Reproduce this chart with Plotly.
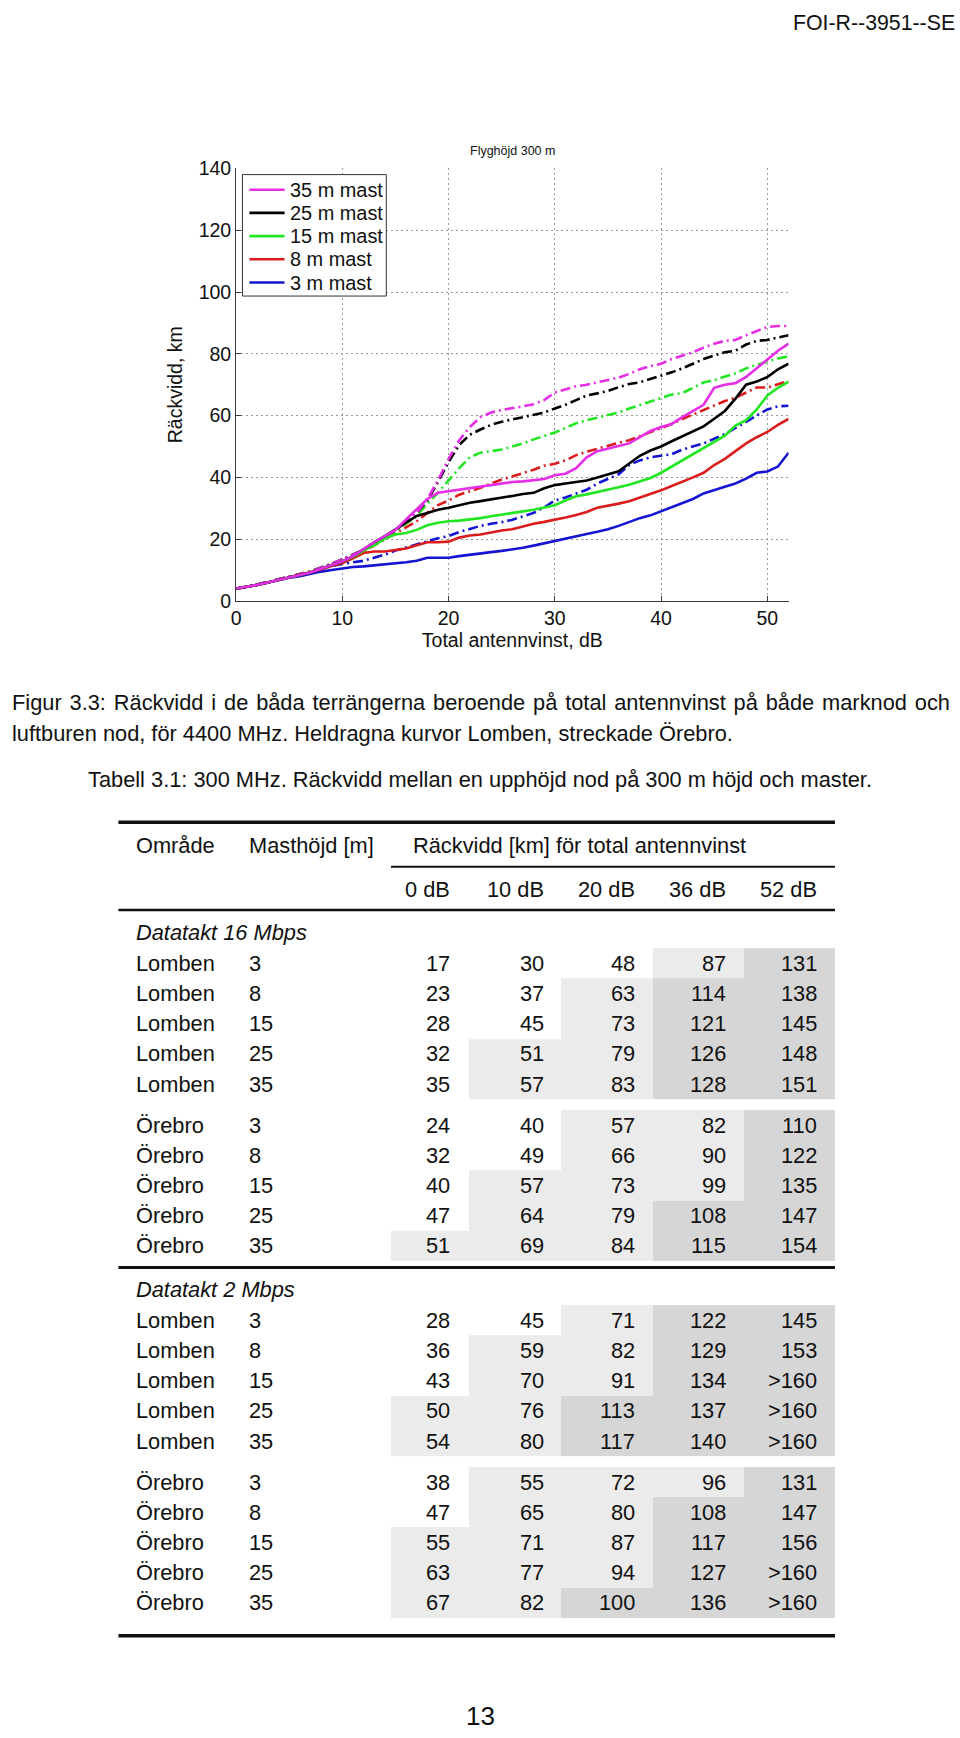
import plotly.graph_objects as go

W, H = 960, 1738
FONT = "Liberation Sans, Arial, Helvetica, sans-serif"

# ---------------- chart data ----------------
gain_db = list(range(0, 53))

lomben_3 = [4, 4.5, 5.2, 6, 6.8, 7.5, 8, 8.8, 9.5, 10,
            10.5, 11, 11.2, 11.5, 12, 12.2, 12.5, 13, 14, 14,
            14, 14.5, 15, 15.5, 15.8, 16.2, 16.6, 17.2, 17.9, 18.7,
            19.5, 20.3, 21, 21.7, 22.4, 23.2, 24.3, 25.6, 26.8, 27.7,
            29, 30.5, 31.6, 33, 34.8, 36, 37, 38, 39.6, 41.5,
            41.9, 43.5, 48]
lomben_8 = [4, 4.5, 5.2, 6, 6.8, 7.6, 8.4, 9.2, 10.2, 11.3,
            12.3, 13.8, 15.5, 16, 16, 16.5, 17, 18, 19, 19,
            19.2, 20.5, 21.2, 21.5, 22.2, 22.8, 23.2, 24.2, 25, 25.6,
            26.2, 27, 27.8, 28.8, 30.2, 30.8, 31.5, 32.3, 33.5, 34.5,
            35.8, 37.2, 38.5, 40, 41.5, 44, 46, 48.5, 51, 53,
            54.7, 57, 58.9]
lomben_15 = [4, 4.5, 5.2, 6, 6.8, 7.6, 8.4, 9.2, 10.4, 11.5,
             12.8, 14.3, 16.3, 18, 20.2, 21.5, 22, 23, 24.5, 25.3,
             25.8, 26, 26.3, 26.8, 27.4, 28, 28.4, 29, 29.5, 30.3,
             31, 32.5, 33.9, 34.5, 35.2, 36, 36.8, 37.6, 38.8, 39.8,
             41.5, 43.5, 45.5, 47.5, 49.5, 51.5, 53.5, 56.8, 58.5, 62,
             66.5, 69, 71]
lomben_25 = [4, 4.5, 5.2, 6, 6.8, 7.6, 8.4, 9.2, 10.4, 11.5,
             12.8, 14.5, 16.8, 19, 21, 23.2, 25.5, 27.5, 28.5, 29.5,
             30.2, 31, 31.8, 32.3, 32.8, 33.5, 34, 34.6, 35, 36.5,
             37.5, 38, 38.5, 39, 40, 41, 42, 44.5, 47, 48.7,
             50, 51.7, 53.3, 55, 56.5, 59, 61.5, 65.5, 70, 71,
             72.5, 75, 76.8]
lomben_35 = [4, 4.5, 5.2, 6, 6.8, 7.6, 8.4, 9.2, 10.4, 11.5,
             12.8, 14.5, 16.8, 19, 21, 23, 26.4, 29.6, 33, 35,
             35.5, 36, 36.5, 37, 37.5, 38, 38.5, 38.7, 39, 39.5,
             40.7, 41.2, 43, 46.5, 48.5, 49.3, 50, 51, 53, 55,
             56.3, 57.3, 59.5, 61.5, 63.5, 69, 70, 70.5, 72.5, 75.3,
             78, 81, 83.3]

orebro_3 = [4, 4.5, 5.3, 6.1, 7, 7.8, 8.6, 9.5, 10.5, 11.3,
            12, 12.5, 13, 14, 15, 16.3, 17.3, 18.4, 19.5, 20.3,
            21, 22.3, 23.3, 24.3, 25, 25.5, 26.3, 27.5, 28.5, 30.3,
            32.5, 33.5, 34.7, 36, 38, 39.5, 41, 44, 45.5, 46.5,
            47, 47.5, 49, 50, 51, 52.5, 54, 56, 58, 60,
            62, 63, 63.2]
orebro_8 = [4, 4.5, 5.3, 6.1, 7, 7.8, 8.6, 9.5, 10.7, 12,
            13.2, 14.5, 16, 18, 20, 22, 24, 25.8, 28.5, 31,
            32.5, 34.4, 35.5, 36.6, 38, 39.3, 40.3, 41.3, 42.5, 43.8,
            44.4, 45.5, 47.2, 48.3, 49.3, 50.4, 51.2, 52, 53.3, 54.8,
            56, 57.3, 58.9, 60.3, 61.8, 63.2, 64.7, 65.8, 67.5, 69.1,
            69.1, 70.1, 71.2]
orebro_15 = [4, 4.5, 5.3, 6.1, 7, 7.8, 8.6, 9.5, 10.8, 12,
             13.5, 15, 16.5, 18.5, 20.5, 22.5, 25, 27.5, 31.5, 35,
             39, 43, 46.5, 48, 48.5, 49, 50, 51, 52.3, 53.3,
             54.5, 56, 57.5, 58.5, 59.3, 60, 61, 62.3, 63.5, 64.5,
             65.7, 66.8, 67.3, 69, 70.7, 71.5, 72.5, 73.7, 75.3, 76.5,
             77.5, 78.5, 79.2]
orebro_25 = [4, 4.5, 5.3, 6.1, 7, 7.8, 8.6, 9.5, 10.8, 12,
             13.5, 15, 16.5, 18.5, 20.5, 23, 25.5, 28.5, 32.5, 38.5,
             45, 50.5, 53.8, 55.5, 57, 58, 58.7, 59.5, 60.3, 61,
             62.3, 63.5, 65, 66.5, 67.2, 68, 69.2, 70.2, 70.8, 71.8,
             72.8, 74, 75.3, 76.8, 78.3, 79.5, 80.5, 81, 83, 84.2,
             84.5, 85.3, 86]
orebro_35 = [4, 4.5, 5.3, 6.1, 7, 7.8, 8.6, 9.5, 10.8, 12,
             13.5, 15, 16.5, 18.5, 20.5, 23, 25.5, 28.5, 33, 39,
             46, 52, 56.3, 59.5, 61, 61.8, 62.3, 63, 63.7, 65,
             67.5, 68.5, 69.5, 70, 70.8, 71.5, 72.3, 73.5, 75, 76,
             76.8, 78.3, 79.3, 80.5, 82, 83.3, 84.2, 84.5, 86, 87.3,
             88.7, 89, 89]

mast_names = ["35 m mast", "25 m mast", "15 m mast", "8 m mast", "3 m mast"]
lomben_series = [lomben_35, lomben_25, lomben_15, lomben_8, lomben_3]
orebro_series = [orebro_35, orebro_25, orebro_15, orebro_8, orebro_3]
mast_colors = ["#e62ee6", "#000000", "#22e622", "#dc1c1c", "#1414d2"]

x_ticks = [0, 10, 20, 30, 40, 50]
y_ticks = [0, 20, 40, 60, 80, 100, 120, 140]

# ---------------- table data ----------------
col_headers = ["Område", "Masthöjd [m]", "Räckvidd [km] för total antennvinst"]
gain_cols = ["0 dB", "10 dB", "20 dB", "36 dB", "52 dB"]
masts = ["3", "8", "15", "25", "35"]
rate_labels = ["Datatakt 16 Mbps", "Datatakt 2 Mbps"]
r16_lomben = [["17", "30", "48", "87", "131"], ["23", "37", "63", "114", "138"],
              ["28", "45", "73", "121", "145"], ["32", "51", "79", "126", "148"],
              ["35", "57", "83", "128", "151"]]
r16_orebro = [["24", "40", "57", "82", "110"], ["32", "49", "66", "90", "122"],
              ["40", "57", "73", "99", "135"], ["47", "64", "79", "108", "147"],
              ["51", "69", "84", "115", "154"]]
r2_lomben = [["28", "45", "71", "122", "145"], ["36", "59", "82", "129", "153"],
             ["43", "70", "91", "134", ">160"], ["50", "76", "113", "137", ">160"],
             ["54", "80", "117", "140", ">160"]]
r2_orebro = [["38", "55", "72", "96", "131"], ["47", "65", "80", "108", "147"],
             ["55", "71", "87", "117", "156"], ["63", "77", "94", "127", ">160"],
             ["67", "82", "100", "136", ">160"]]
table_groups = [("Lomben", r16_lomben), ("Örebro", r16_orebro),
                ("Lomben", r2_lomben), ("Örebro", r2_orebro)]

header_text = "FOI-R--3951--SE"
caption_words = ["Figur", "3.3:", "Räckvidd", "i", "de", "båda", "terrängerna", "beroende", "på",
                 "total", "antennvinst", "på", "både", "marknod", "och"]
caption_line2 = "luftburen nod, för 4400 MHz. Heldragna kurvor Lomben, streckade Örebro."
table_caption = "Tabell 3.1: 300 MHz. Räckvidd mellan en upphöjd nod på 300 m höjd och master."
chart_title = "Flyghöjd 300 m"
page_number = "13"

# ---------------- layout constants (pixels) ----------------
AX = "#3a3a3a"
GRID = "#9a9a9a"
TXT = 21.8
X_L, X_R = 232.3, 787.7
Y_B, Y_T = 597.5, 159.5
TBL_L, TBL_R = 114, 834.3
COL_EDGES = [388, 466, 559.3, 651, 742.5, 834.3]
NUM_RIGHT = [447, 542.3, 633, 725, 816]
X_AREA, X_MAST, X_RHDR = 131.7, 245, 410
ROW_P = 30.6
GROUP_Y0 = [964.5, 1128.3, 1326.0, 1490.0]
RATE_Y = [933.3, 1295.0]
SHADES = ["#ffffff", "#ebebeb", "#d6d6d6"]
LEG_BOX = (238.7, 383.3, 165.7, 288.7)
LEG_Y0, LEG_P = 181.0, 23.5
LEG_LINE = (245.7, 281.0)
LEG_TXT_X = 286.0


def shade_level(s):
    v = 161 if s.startswith(">") else int(s)
    return 0 if v < 50 else (1 if v < 100 else 2)


fig = go.Figure()

# dash-dot (Örebro) curves
for vals, col in zip(reversed(orebro_series), reversed(mast_colors)):
    fig.add_trace(go.Scatter(x=gain_db, y=vals, mode="lines", showlegend=False, hoverinfo="skip",
                             line=dict(color=col, width=2.6, dash="10px,4px,2px,4px")))
# solid (Lomben) curves
for name, vals, col in reversed(list(zip(mast_names, lomben_series, mast_colors))):
    fig.add_trace(go.Scatter(x=gain_db, y=vals, mode="lines", name=name, showlegend=False,
                             hoverinfo="skip", line=dict(color=col, width=2.6)))

# table shading as heatmaps on a pixel-unit axis pair
for gi, (area, rows) in enumerate(table_groups):
    y0 = GROUP_Y0[gi]
    edges = [y0 - ROW_P / 2 + k * ROW_P for k in range(len(rows) + 1)]
    z = [[shade_level(v) for v in row] for row in rows]
    fig.add_trace(go.Heatmap(x=COL_EDGES, y=edges, z=z, xaxis="x2", yaxis="y2", zmin=0, zmax=2,
                             colorscale=[[0, SHADES[0]], [0.5, SHADES[1]], [1, SHADES[2]]],
                             showscale=False, hoverinfo="skip", xgap=0, ygap=0))


def txt(x, y, s, size=TXT, anchor="left"):
    fig.add_annotation(x=x, y=y, xref="x2", yref="y2", text=s, showarrow=False, xanchor=anchor,
                       yanchor="middle", borderpad=0, borderwidth=0,
                       font=dict(size=size, family=FONT, color="#111111"))


# page header / captions
txt(955, 12, header_text, size=21.3, anchor="right")
# first caption line is justified in the source: widen every inter-word gap slightly
line1 = (" \u200a").join(caption_words)
txt(7, 700.7, line1)
txt(7, 731.7, caption_line2)
txt(477.4, 778.3, table_caption, anchor="center")
txt(510, 141.7, chart_title, size=12.5, anchor="center")
txt(478, 1727, page_number, size=26, anchor="center")

# manual legend (MATLAB style box)
fig.add_shape(type="rect", xref="x2", yref="y2", x0=LEG_BOX[0], x1=LEG_BOX[1], y0=LEG_BOX[2],
              y1=LEG_BOX[3], fillcolor="white", line=dict(color="#333333", width=1), layer="above")
for i, (name, col) in enumerate(zip(mast_names, mast_colors)):
    y = LEG_Y0 + i * LEG_P
    fig.add_shape(type="line", xref="x2", yref="y2", x0=LEG_LINE[0], x1=LEG_LINE[1], y0=y, y1=y,
                  line=dict(color=col, width=2.6), layer="above")
    txt(LEG_TXT_X, y, name, size=19.9)

# table header
txt(X_AREA, 845, col_headers[0])
txt(X_MAST, 845, col_headers[1])
txt(X_RHDR, 845, col_headers[2])
for c, g in enumerate(gain_cols):
    txt(NUM_RIGHT[c], 889.3, g, anchor="right")
txt(X_AREA, RATE_Y[0], "<i>" + rate_labels[0] + "</i>")
txt(X_AREA, RATE_Y[1], "<i>" + rate_labels[1] + "</i>")

for gi, (area, rows) in enumerate(table_groups):
    for i, row in enumerate(rows):
        y = GROUP_Y0[gi] + i * ROW_P
        txt(X_AREA, y, area)
        txt(X_MAST, y, masts[i])
        for c, v in enumerate(row):
            txt(NUM_RIGHT[c], y, v, anchor="right")

# table rules
rules = [(821.7, TBL_L, 3.5), (866.7, COL_EDGES[0], 1.8), (910.5, TBL_L, 2.5),
         (1272.7, TBL_L, 3.0), (1645.7, TBL_L, 3.5)]
for y, x0, w in rules:
    fig.add_shape(type="line", xref="x2", yref="y2", x0=x0, x1=TBL_R, y0=y, y1=y,
                  line=dict(color="#111111", width=w))

fig.update_layout(
    width=W, height=H, margin=dict(l=0, r=0, t=0, b=0),
    paper_bgcolor="white", plot_bgcolor="rgba(0,0,0,0)",
    font=dict(family=FONT, color="#111111", size=19.5),
    showlegend=False,
    xaxis=dict(domain=[X_L / W, X_R / W], range=[0, 52], tickvals=x_ticks, ticks="inside", ticklen=5,
               tickcolor=AX, showline=True, linecolor=AX, linewidth=1, showgrid=True, gridcolor=GRID,
               gridwidth=1, griddash="1.5px,3.5px", zeroline=False, tickfont=dict(size=19.5),
               title=dict(text="Total antennvinst, dB", font=dict(size=19.5), standoff=0),
               anchor="y", fixedrange=True),
    yaxis=dict(domain=[1 - Y_B / H, 1 - Y_T / H], range=[0, 140], tickvals=y_ticks, ticks="inside",
               ticklen=5, tickcolor=AX, showline=True, linecolor=AX, linewidth=1, showgrid=True,
               gridcolor=GRID, gridwidth=1, griddash="1.5px,3.5px", zeroline=False,
               tickfont=dict(size=19.5), title=dict(text="Räckvidd, km", font=dict(size=19.5), standoff=10),
               anchor="x", fixedrange=True),
    xaxis2=dict(domain=[0, 1], range=[0, W], visible=False, anchor="y2", fixedrange=True),
    yaxis2=dict(domain=[0, 1], range=[H, 0], visible=False, anchor="x2", fixedrange=True),
)

fig.write_html("out.html", config={"displayModeBar": False},
               post_script="document.body.style.margin='0';document.body.style.overflow='hidden';")
